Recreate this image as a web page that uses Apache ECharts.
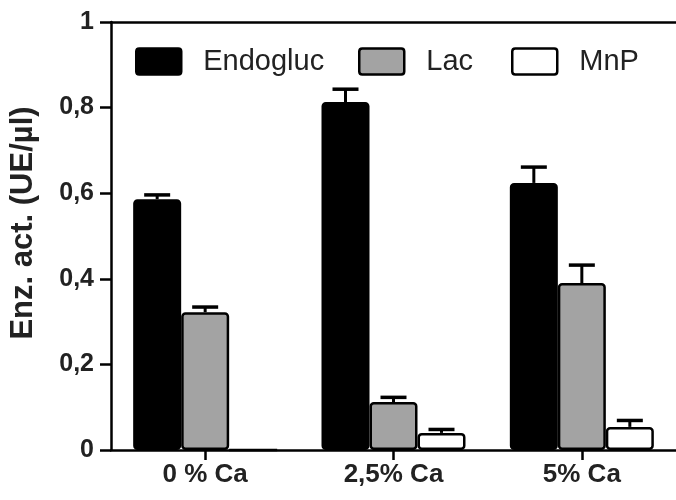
<!DOCTYPE html>
<html>
<head>
<meta charset="utf-8">
<script src="https://cdn.jsdelivr.net/npm/echarts@6/dist/echarts.min.js"></script>
<style>
html,body{margin:0;padding:0;background:#fff;}
#chart{width:676px;height:500px;}
</style>
</head>
<body>
<div id="chart"></div>
<script>
// ---- data ----
const categories = ['0 % Ca', '2,5% Ca', '5% Ca'];
const seriesNames = ['Endogluc', 'Lac', 'MnP'];
const endoglucValues = [0.586, 0.813, 0.624];
const endoglucErrors = [0.010, 0.030, 0.037];
const lacValues = [0.322, 0.112, 0.390];
const lacErrors = [0.012, 0.011, 0.042];
const mnpValues = [0, 0.040, 0.054];
const mnpErrors = [0, 0.008, 0.015];
const yTickValues = [0, 0.2, 0.4, 0.6, 0.8, 1];
const yTickLabels = ['0', '0,2', '0,4', '0,6', '0,8', '1'];

// ---- style ----
const FONT = '"Liberation Sans", Arial, Helvetica, sans-serif';
const BAR_W = 48;
const CAP_W = 26;
const fills = ['#000000', '#a3a3a3', '#ffffff'];
const valueSets = [endoglucValues, lacValues, mnpValues];
const errorSets = [endoglucErrors, lacErrors, mnpErrors];

const chart = echarts.init(document.getElementById('chart'), null, {renderer: 'canvas'});

const barSeries = seriesNames.map((name, i) => ({
  name: name,
  type: 'bar',
  data: valueSets[i],
  barWidth: BAR_W,
  barGap: '0%',
  z: 2,
  itemStyle: {color: fills[i], borderColor: '#000', borderWidth: 2.5, borderRadius: 3},
  emphasis: {disabled: true},
  animation: false
}));

const errSeries = seriesNames.map((name, i) => ({
  name: name + ' error',
  type: 'custom',
  z: 3,
  silent: true,
  animation: false,
  data: categories.map((c, k) => [k, valueSets[i][k], valueSets[i][k] + errorSets[i][k]]),
  renderItem: function (params, api) {
    const v = api.value(1), top = api.value(2);
    if (top - v <= 0) return null;
    const p0 = api.coord([api.value(0), v]);
    const p1 = api.coord([api.value(0), top]);
    const x = p0[0] + (i - 1) * BAR_W;
    return {
      type: 'group',
      children: [
        {type: 'line', shape: {x1: x, y1: p0[1], x2: x, y2: p1[1]}, style: {stroke: '#000', lineWidth: 3}},
        {type: 'line', shape: {x1: x - CAP_W / 2, y1: p1[1], x2: x + CAP_W / 2, y2: p1[1]}, style: {stroke: '#000', lineWidth: 3.5}}
      ]
    };
  }
}));

function legendFor(i, left) {
  return {
    data: [seriesNames[i]],
    left: left,
    top: 42,
    itemWidth: 45,
    itemHeight: 26,
    icon: 'path://M3,0 L42,0 Q45,0 45,3 L45,23 Q45,26 42,26 L3,26 Q0,26 0,23 L0,3 Q0,0 3,0 Z',
    selectedMode: false,
    itemStyle: {borderColor: '#000', borderWidth: 2.5},
    textStyle: {
      fontFamily: FONT,
      fontSize: 29,
      color: '#222',
      rich: {a: {fontFamily: FONT, fontSize: 29, color: '#222', padding: [0, 0, 0, 17]}}
    },
    formatter: '{a|{name}}'
  };
}

const option = {
  backgroundColor: '#fff',
  animation: false,
  legend: [legendFor(0, 130), legendFor(1, 353), legendFor(2, 506)],
  grid: {left: 108, top: 22, width: 577, height: 428, containLabel: false},
  xAxis: [{
    type: 'category',
    data: categories,
    position: 'bottom',
    axisLine: {lineStyle: {color: '#000', width: 2.5}},
    axisTick: {show: true, alignWithLabel: true, length: 10, lineStyle: {color: '#000', width: 2.5}},
    axisLabel: {fontFamily: FONT, fontWeight: 'bold', fontSize: 26, color: '#222', margin: 12},
    splitLine: {show: false}
  }, {
    type: 'category',
    data: categories,
    position: 'top',
    axisLine: {show: true, lineStyle: {color: '#000', width: 2.5}},
    axisTick: {show: false},
    axisLabel: {show: false},
    splitLine: {show: false}
  }],
  yAxis: {
    type: 'value',
    min: 0,
    max: 1,
    interval: 0.2,
    name: 'Enz. act. (UE/µl)',
    nameLocation: 'middle',
    nameRotate: 90,
    nameGap: 72,
    nameTextStyle: {fontFamily: FONT, fontWeight: 'bold', fontSize: 31, color: '#222', padding: [0, 0, 0, 26]},
    axisLine: {show: true, lineStyle: {color: '#000', width: 2.5}},
    axisTick: {show: true, length: 11, lineStyle: {color: '#000', width: 2.5}},
    axisLabel: {
      fontFamily: FONT, fontWeight: 'bold', fontSize: 25, color: '#222', margin: 17,
      formatter: function (v) {
        const idx = yTickValues.findIndex(t => Math.abs(t - v) < 1e-9);
        return idx >= 0 ? yTickLabels[idx] : '';
      }
    },
    splitLine: {show: false}
  },
  series: barSeries.concat(errSeries)
};

chart.setOption(option);
</script>
</body>
</html>
